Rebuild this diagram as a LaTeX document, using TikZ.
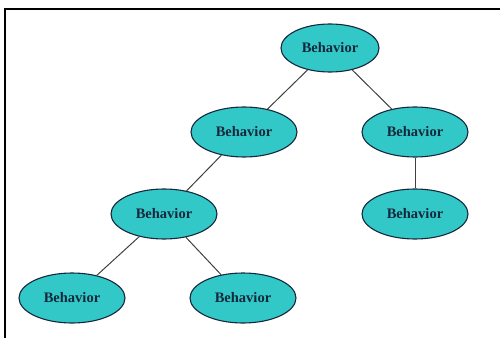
\documentclass[tikz,border=0pt]{standalone}
\usepackage{fontspec}
\setmainfont{Liberation Serif}
\usepackage{xcolor}
\usepackage{tikz}
\usetikzlibrary{shapes.geometric}
\definecolor{behteal}{RGB}{51, 200, 200}
\definecolor{behnavy}{RGB}{20, 40, 60}

\begin{document}
\begin{tikzpicture}[x=1pt, y=1pt,
  behnode/.style={ellipse, draw=behnavy, line width=1.1pt, fill=behteal, minimum width=106pt, minimum height=50pt, inner sep=0pt, font=\fontsize{14.5}{16}\selectfont\bfseries, text=behnavy},
  link/.style={draw=black!75, line width=1pt}]
\useasboundingbox (0,0) rectangle (500,338);
\draw[line width=2pt] (5,0) -- (5,329) -- (500,329);

\node[behnode, minimum width=98pt, minimum height=48pt] (root) at (330,290) {Behavior};
\node[behnode] (midL) at (244,206) {Behavior};
\node[behnode] (midR) at (415,206) {Behavior};
\node[behnode] (lowL) at (164,124) {Behavior};
\node[behnode] (lowR) at (415,124) {Behavior};
\node[behnode] (leafA) at (72,40) {Behavior};
\node[behnode] (leafB) at (243,40) {Behavior};

\draw[link] (root) -- (midL);
\draw[link] (root) -- (midR);
\draw[link] (midR) -- (lowR);
\draw[link] (midL) -- (lowL);
\draw[link] (lowL) -- (leafA);
\draw[link] (lowL) -- (leafB);
\end{tikzpicture}
\end{document}
